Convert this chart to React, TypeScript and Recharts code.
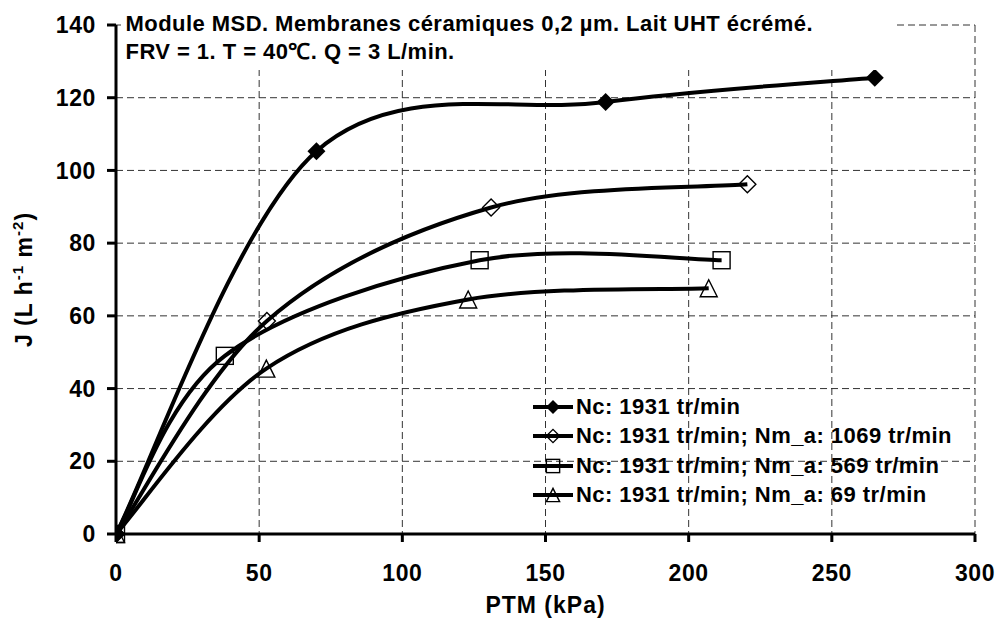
import React from 'react';
import { LineChart, Line, XAxis, YAxis, CartesianGrid, Legend } from 'recharts';

const FONT = '"Liberation Sans", Arial, Helvetica, sans-serif';

// PTM (kPa) and J (L h-1 m-2)
const ptmA = [0, 70, 171, 265];
const fluxA = [0, 105.3, 118.8, 125.5];
const ptmB = [0, 52.7, 131, 220.5];
const fluxB = [0, 58.6, 89.8, 96.2];
const ptmC = [0, 38, 127, 211.5];
const fluxC = [0, 49, 75.3, 75.3];
const ptmD = [0, 52.5, 123, 207];
const fluxD = [0, 45.5, 64.5, 67.6];

const seriesNames = [
  'Nc: 1931 tr/min',
  'Nc: 1931 tr/min; Nm_a: 1069 tr/min',
  'Nc: 1931 tr/min; Nm_a: 569 tr/min',
  'Nc: 1931 tr/min; Nm_a: 69 tr/min',
];
const markerKinds = ['filledDiamond', 'openDiamond', 'square', 'triangle'];

const xTicks = [0, 50, 100, 150, 200, 250, 300];
const yTicks = [0, 20, 40, 60, 80, 100, 120, 140];

const titleLines = [
  'Module MSD. Membranes céramiques 0,2 µm. Lait UHT écrémé.',
  'FRV = 1. T = 40℃. Q = 3 L/min.',
];

const toRows = (xs: number[], ys: number[]) => xs.map((x, i) => ({ x, y: ys[i] }));
const dataA = toRows(ptmA, fluxA);
const dataB = toRows(ptmB, fluxB);
const dataC = toRows(ptmC, fluxC);
const dataD = toRows(ptmD, fluxD);

// Excel-like smoothed line (Catmull-Rom style Bezier)
function excelSmooth(context: any) {
  let pts: number[][] = [];
  return {
    areaStart() {},
    areaEnd() {},
    lineStart() {
      pts = [];
    },
    point(x: number, y: number) {
      pts.push([+x, +y]);
    },
    lineEnd() {
      const n = pts.length;
      if (!n) return;
      context.moveTo(pts[0][0], pts[0][1]);
      for (let i = 0; i < n - 1; i++) {
        const p0 = pts[Math.max(i - 1, 0)];
        const p1 = pts[i];
        const p2 = pts[i + 1];
        const p3 = pts[Math.min(i + 2, n - 1)];
        const c1x = p1[0] + (p2[0] - p0[0]) / 6;
        const c1y = p1[1] + (p2[1] - p0[1]) / 6;
        const c2x = p2[0] - (p3[0] - p1[0]) / 6;
        const c2y = p2[1] - (p3[1] - p1[1]) / 6;
        context.bezierCurveTo(c1x, c1y, c2x, c2y, p2[0], p2[1]);
      }
    },
  };
}

function Marker({ kind, cx, cy, s = 1 }: { kind: string; cx: number; cy: number; s?: number }) {
  if (cx == null || cy == null) return null;
  if (kind === 'filledDiamond') {
    const h = 9 * s;
    return <polygon points={`${cx},${cy - h} ${cx + h},${cy} ${cx},${cy + h} ${cx - h},${cy}`} fill="#000" />;
  }
  if (kind === 'openDiamond') {
    const h = 8.5 * s;
    return (
      <polygon
        points={`${cx},${cy - h} ${cx + h},${cy} ${cx},${cy + h} ${cx - h},${cy}`}
        fill="none"
        stroke="#000"
        strokeWidth={1.4}
      />
    );
  }
  if (kind === 'square') {
    const h = 8.5 * s;
    return <rect x={cx - h} y={cy - h} width={2 * h} height={2 * h} fill="none" stroke="#000" strokeWidth={1.4} />;
  }
  const h = 8.5 * s;
  return (
    <polygon
      points={`${cx},${cy - h} ${cx + h},${cy + h} ${cx - h},${cy + h}`}
      fill="none"
      stroke="#000"
      strokeWidth={1.4}
    />
  );
}

const dotFor = (kind: string) => (p: any) => (
  <Marker key={`${kind}-${p.index}`} kind={kind} cx={p.cx} cy={p.cy} />
);

const LegendContent = (props: any) => {
  const payload = props.payload || [];
  return (
    <div style={{ fontFamily: FONT, fontWeight: 'bold', fontSize: 22, letterSpacing: 0.45, color: '#000' }}>
      {payload.map((e: any, i: number) => (
        <div key={i} style={{ display: 'flex', alignItems: 'center', height: 29.5, whiteSpace: 'nowrap' }}>
          <svg width={44} height={20} style={{ display: 'block' }}>
            <line x1={2} y1={10} x2={42} y2={10} stroke="#000" strokeWidth={4} />
            <Marker kind={markerKinds[i]} cx={22} cy={10} s={0.78} />
          </svg>
          <span style={{ marginLeft: 1 }}>{e.value}</span>
        </div>
      ))}
    </div>
  );
};

const YLabel = (props: any) => {
  const vb = props.viewBox || { x: 0, y: 25, width: 116, height: 509 };
  const cx = vb.x + 32;
  const cy = vb.y + vb.height / 2;
  return (
    <text
      transform={`translate(${cx},${cy}) rotate(-90)`}
      textAnchor="middle"
      fontFamily={FONT}
      fontWeight="bold"
      fontSize={23}
      letterSpacing={1}
      fill="#000"
    >
      J (L h
      <tspan fontSize={15} dy={-9}>-1</tspan>
      <tspan dy={9}> m</tspan>
      <tspan fontSize={15} dy={-9}>-2</tspan>
      <tspan dy={9}>)</tspan>
    </text>
  );
};

const tickStyle = { fill: '#000', fontSize: 23, fontWeight: 'bold', fontFamily: FONT, letterSpacing: 0.6 } as any;

export default function App() {
  return (
    <div style={{ position: 'absolute', left: 0, top: 0, width: 1000, height: 624, background: '#fff' }}>
      <LineChart width={1000} height={624} margin={{ top: 25, right: 25, bottom: 0, left: 0 }}>
        <CartesianGrid stroke="#333" strokeWidth={1} strokeDasharray="7 4" />
        <XAxis
          type="number"
          dataKey="x"
          domain={[0, 300]}
          ticks={xTicks}
          allowDataOverflow
          height={90}
          axisLine={{ stroke: '#000', strokeWidth: 3 }}
          tickLine={{ stroke: '#000', strokeWidth: 3 }}
          tickSize={8}
          tickMargin={23}
          tick={tickStyle}
          label={{
            value: 'PTM (kPa)',
            position: 'insideBottom',
            offset: 11,
            fill: '#000',
            fontSize: 23,
            fontWeight: 'bold',
            fontFamily: FONT,
            letterSpacing: 1,
          }}
        />
        <XAxis
          xAxisId="top"
          orientation="top"
          type="number"
          domain={[0, 300]}
          height={0}
          tick={false}
          tickLine={false}
          axisLine={{ stroke: '#000', strokeWidth: 2.5 }}
        />
        <YAxis
          type="number"
          domain={[0, 140]}
          ticks={yTicks}
          width={116}
          axisLine={{ stroke: '#000', strokeWidth: 3 }}
          tickLine={{ stroke: '#000', strokeWidth: 3 }}
          tickSize={9}
          tickMargin={11}
          tick={tickStyle}
          label={YLabel}
        />
        <YAxis
          yAxisId="right"
          orientation="right"
          type="number"
          domain={[0, 140]}
          width={0}
          tick={false}
          tickLine={false}
          axisLine={{ stroke: '#000', strokeWidth: 3 }}
        />
        <Legend
          layout="vertical"
          align="center"
          verticalAlign="middle"
          content={LegendContent}
          wrapperStyle={{ left: 531, top: 392, width: 'auto', height: 'auto' }}
        />
        <Line
          data={dataA}
          dataKey="y"
          name={seriesNames[0]}
          type={excelSmooth as any}
          stroke="#000"
          strokeWidth={4}
          dot={dotFor(markerKinds[0])}
          activeDot={false}
          isAnimationActive={false}
        />
        <Line
          data={dataB}
          dataKey="y"
          name={seriesNames[1]}
          type={excelSmooth as any}
          stroke="#000"
          strokeWidth={4}
          dot={dotFor(markerKinds[1])}
          activeDot={false}
          isAnimationActive={false}
        />
        <Line
          data={dataC}
          dataKey="y"
          name={seriesNames[2]}
          type={excelSmooth as any}
          stroke="#000"
          strokeWidth={4}
          dot={dotFor(markerKinds[2])}
          activeDot={false}
          isAnimationActive={false}
        />
        <Line
          data={dataD}
          dataKey="y"
          name={seriesNames[3]}
          type={excelSmooth as any}
          stroke="#000"
          strokeWidth={4}
          dot={dotFor(markerKinds[3])}
          activeDot={false}
          isAnimationActive={false}
        />
      </LineChart>
      <div
        style={{
          position: 'absolute',
          left: 121,
          top: 0,
          width: 772,
          height: 70,
          background: '#fff',
          boxSizing: 'border-box',
          paddingLeft: 4.5,
          paddingTop: 10,
          fontFamily: FONT,
          fontWeight: 'bold',
          fontSize: 22,
          letterSpacing: 0.45,
          lineHeight: '27.5px',
          color: '#000',
          whiteSpace: 'nowrap',
        }}
      >
        {titleLines.map((t, i) => (
          <div key={i}>{t}</div>
        ))}
      </div>
    </div>
  );
}
